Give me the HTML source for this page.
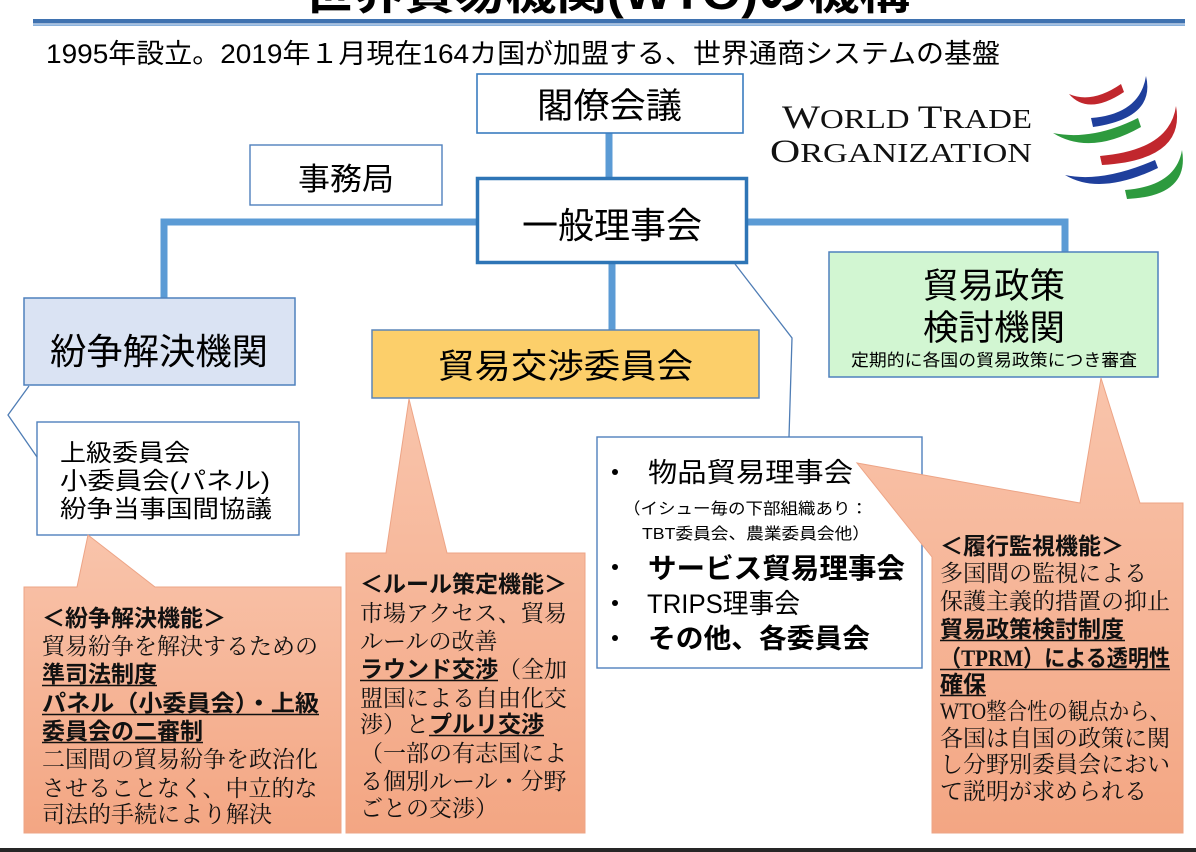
<!DOCTYPE html>
<html lang="ja">
<head>
<meta charset="utf-8">
<style>
  html,body{margin:0;padding:0;background:#fff;}
  body{width:1196px;height:852px;overflow:hidden;}
  svg{display:block;}
  .sans{font-family:"Liberation Sans","Noto Sans CJK JP",sans-serif;}
  .serif{font-family:"Liberation Serif","Noto Serif CJK SC",serif;}
  .b{font-family:"Liberation Sans","Noto Sans CJK JP",sans-serif;font-weight:bold;}
</style>
</head>
<body>
<svg width="1196" height="852" viewBox="0 0 1196 852" xmlns="http://www.w3.org/2000/svg">
  <defs>
    <linearGradient id="sal" x1="0" y1="0" x2="0" y2="1">
      <stop offset="0" stop-color="#f9c4ab"/>
      <stop offset="1" stop-color="#f3a683"/>
    </linearGradient>
  </defs>

  <!-- Title (clipped at top) -->
  <text class="b" x="303" y="9" font-size="46" textLength="607" lengthAdjust="spacingAndGlyphs" fill="#000">世界貿易機関(WTO)の機構</text>

  <!-- header rule -->
  <rect x="33" y="19" width="1152" height="4.5" fill="#3f72b0"/>
  <rect x="33" y="24.3" width="1152" height="1.6" fill="#7ea9d9"/>

  <!-- subtitle -->
  <text class="sans" x="46" y="63" font-size="27" textLength="954" lengthAdjust="spacingAndGlyphs" fill="#000">1995年設立。2019年１月現在164カ国が加盟する、世界通商システムの基盤</text>

  <!-- WTO logo text -->
  <text class="serif" x="782" y="128" textLength="250" lengthAdjust="spacingAndGlyphs" fill="#111"><tspan font-size="33">W</tspan><tspan font-size="27">ORLD </tspan><tspan font-size="33">T</tspan><tspan font-size="27">RADE</tspan></text>
  <text class="serif" x="770" y="162" textLength="262" lengthAdjust="spacingAndGlyphs" fill="#111"><tspan font-size="33">O</tspan><tspan font-size="27">RGANIZATION</tspan></text>

  <!-- WTO logo swooshes -->
  <g>
    <path d="M1069,94 Q1092,104 1121,84 L1124,92 Q1088,116 1069,94 Z" fill="#c1272d"/>
    <path d="M1091,118 Q1140,114 1146,76 Q1156,118 1093,127 Z" fill="#1f3f9c"/>
    <path d="M1053,133 Q1092,141 1138,118 L1141,127 Q1090,156 1053,133 Z" fill="#2d9a3e"/>
    <path d="M1100,156 Q1170,150 1176,106 Q1186,160 1102,165 Z" fill="#c1272d"/>
    <path d="M1065,175 Q1102,183 1155,160 L1158,168 Q1100,196 1065,175 Z" fill="#1f3f9c"/>
    <path d="M1125,190 Q1176,186 1182,150 Q1190,196 1127,199 Z" fill="#2d9a3e"/>
  </g>

  <!-- thick connectors -->
  <g stroke="#5b9bd5" stroke-width="7" fill="none" stroke-linejoin="miter">
    <line x1="609" y1="133" x2="609" y2="178"/>
    <polyline points="164,298 164,222 1065,222 1065,252"/>
    <line x1="612" y1="263" x2="612" y2="330"/>
  </g>

  <!-- boxes -->
  <rect x="477" y="74" width="266" height="59" fill="#fff" stroke="#3a7cc0" stroke-width="1.6"/>
  <rect x="250" y="145" width="192" height="60" fill="#fff" stroke="#4f81bd" stroke-width="1.4"/>
  <rect x="477.5" y="178.5" width="269" height="84" fill="#fff" stroke="#2e75b6" stroke-width="3.5"/>
  <rect x="24" y="298" width="271" height="87" fill="#dae3f3" stroke="#4f81bd" stroke-width="1.5"/>
  <rect x="372" y="330" width="387" height="68" fill="#fccf6a" stroke="#5b86b8" stroke-width="1.5"/>
  <rect x="829" y="252" width="329" height="125" fill="#d2f6d2" stroke="#4f81bd" stroke-width="1.5"/>
  <rect x="37" y="422" width="262" height="113" fill="#fff" stroke="#4f81bd" stroke-width="1.4"/>
  <rect x="597" y="437" width="325" height="231" fill="#fff" stroke="#4f81bd" stroke-width="1.4"/>

  <!-- thin connectors -->
  <g stroke="#4f7db5" stroke-width="1.3" fill="none">
    <polyline points="735,264 792,338 789,437"/>
    <polyline points="29,386 8,415 37,457"/>
  </g>

  <!-- callouts -->
  <polygon points="24,587 77,587 88,535 155,587 341,587 341,833 24,833" fill="url(#sal)" stroke="#eda486" stroke-width="1"/>
  <polygon points="346,553 386,553 409,399 447,553 585,553 585,833 346,833" fill="url(#sal)" stroke="#eda486" stroke-width="1"/>
  <polygon points="932,557 857,463 1080,503 1101,378 1140,503 1183,503 1183,833 932,833" fill="url(#sal)" stroke="#eda486" stroke-width="1"/>

  <!-- box texts -->
  <text class="sans" x="537" y="118" font-size="35" textLength="145" lengthAdjust="spacingAndGlyphs">閣僚会議</text>
  <text class="sans" x="298" y="190" font-size="31" textLength="96" lengthAdjust="spacingAndGlyphs">事務局</text>
  <text class="sans" x="522" y="238" font-size="36" textLength="180" lengthAdjust="spacingAndGlyphs">一般理事会</text>
  <text class="sans" x="50" y="364" font-size="36" textLength="218" lengthAdjust="spacingAndGlyphs">紛争解決機関</text>
  <text class="sans" x="438" y="378" font-size="34" textLength="255" lengthAdjust="spacingAndGlyphs">貿易交渉委員会</text>
  <text class="sans" x="923" y="298" font-size="35" textLength="142" lengthAdjust="spacingAndGlyphs">貿易政策</text>
  <text class="sans" x="923" y="340" font-size="35" textLength="142" lengthAdjust="spacingAndGlyphs">検討機関</text>
  <text class="sans" x="851" y="366" font-size="17" textLength="286" lengthAdjust="spacingAndGlyphs">定期的に各国の貿易政策につき審査</text>

  <text class="sans" x="60" y="461" font-size="24" textLength="130" lengthAdjust="spacingAndGlyphs">上級委員会</text>
  <text class="sans" x="60" y="489" font-size="24" textLength="210" lengthAdjust="spacingAndGlyphs">小委員会(パネル)</text>
  <text class="sans" x="60" y="517" font-size="24" textLength="212" lengthAdjust="spacingAndGlyphs">紛争当事国間協議</text>

  <!-- goods council box -->
  <g fill="#000">
    <circle cx="615" cy="472" r="3"/>
    <circle cx="615" cy="567" r="3"/>
    <circle cx="615" cy="603" r="3"/>
    <circle cx="615" cy="638" r="3"/>
  </g>
  <text class="sans" x="648" y="482" font-size="27" textLength="205" lengthAdjust="spacingAndGlyphs">物品貿易理事会</text>
  <text class="sans" x="623" y="514" font-size="16" textLength="245" lengthAdjust="spacingAndGlyphs">（イシュー毎の下部組織あり：</text>
  <text class="sans" x="642" y="539" font-size="16" textLength="228" lengthAdjust="spacingAndGlyphs">TBT委員会、農業委員会他）</text>
  <text class="b" x="648" y="578" font-size="28" textLength="257" lengthAdjust="spacingAndGlyphs">サービス貿易理事会</text>
  <text class="sans" x="647" y="613" font-size="27" textLength="153" lengthAdjust="spacingAndGlyphs">TRIPS理事会</text>
  <text class="b" x="648" y="648" font-size="27" textLength="222" lengthAdjust="spacingAndGlyphs">その他、各委員会</text>

  <!-- left callout text -->
  <g font-size="23" fill="#111">
    <text class="b" x="42" y="626">＜紛争解決機能＞</text>
    <text class="serif" x="42" y="654">貿易紛争を解決するための</text>
    <text class="b" x="42" y="682">準司法制度</text>
    <text class="b" x="42" y="711" textLength="277" lengthAdjust="spacingAndGlyphs">パネル（小委員会）・上級</text>
    <text class="b" x="42" y="739">委員会の二審制</text>
    <text class="serif" x="42" y="767">二国間の貿易紛争を政治化</text>
    <text class="serif" x="42" y="796">させることなく、中立的な</text>
    <text class="serif" x="42" y="822">司法的手続により解決</text>
  </g>
  <g stroke="#111" stroke-width="1.5">
    <line x1="42" y1="685.5" x2="157" y2="685.5"/>
    <line x1="42" y1="714.5" x2="319" y2="714.5"/>
    <line x1="42" y1="742.5" x2="203" y2="742.5"/>
  </g>

  <!-- rule callout text -->
  <g font-size="23" fill="#111">
    <text class="b" x="360" y="592">＜ルール策定機能＞</text>
    <text class="serif" x="360" y="621">市場アクセス、貿易</text>
    <text class="serif" x="360" y="649">ルールの改善</text>
    <text x="360" y="677"><tspan class="b">ラウンド交渉</tspan><tspan class="serif">（全加</tspan></text>
    <text class="serif" x="360" y="706">盟国による自由化交</text>
    <text x="360" y="732"><tspan class="serif">渉）と</tspan><tspan class="b">プルリ交渉</tspan></text>
    <text class="serif" x="360" y="761">（一部の有志国によ</text>
    <text class="serif" x="360" y="789">る個別ルール・分野</text>
    <text class="serif" x="360" y="816">ごとの交渉）</text>
  </g>
  <g stroke="#111" stroke-width="1.5">
    <line x1="360" y1="680.5" x2="498" y2="680.5"/>
    <line x1="429" y1="735.5" x2="544" y2="735.5"/>
  </g>

  <!-- right callout text -->
  <g font-size="23" fill="#111">
    <text class="b" x="940" y="554">＜履行監視機能＞</text>
    <text class="serif" x="940" y="581">多国間の監視による</text>
    <text class="serif" x="940" y="609">保護主義的措置の抑止</text>
    <text class="b" x="940" y="637">貿易政策検討制度</text>
    <text x="940" y="666" textLength="230" lengthAdjust="spacingAndGlyphs"><tspan class="b">（</tspan><tspan class="serif" font-weight="bold">TPRM</tspan><tspan class="b">）による透明性</tspan></text>
    <text class="b" x="940" y="692">確保</text>
    <text class="serif" x="940" y="719" textLength="230" lengthAdjust="spacingAndGlyphs">WTO整合性の観点から、</text>
    <text class="serif" x="940" y="746">各国は自国の政策に関</text>
    <text class="serif" x="940" y="772">し分野別委員会におい</text>
    <text class="serif" x="940" y="799">て説明が求められる</text>
  </g>
  <g stroke="#111" stroke-width="1.5">
    <line x1="940" y1="640.5" x2="1125" y2="640.5"/>
    <line x1="940" y1="669.5" x2="1170" y2="669.5"/>
    <line x1="940" y1="695.5" x2="986" y2="695.5"/>
  </g>

  <!-- bottom dark band -->
  <rect x="0" y="848" width="1196" height="4" fill="#262626"/>
</svg>
</body>
</html>
